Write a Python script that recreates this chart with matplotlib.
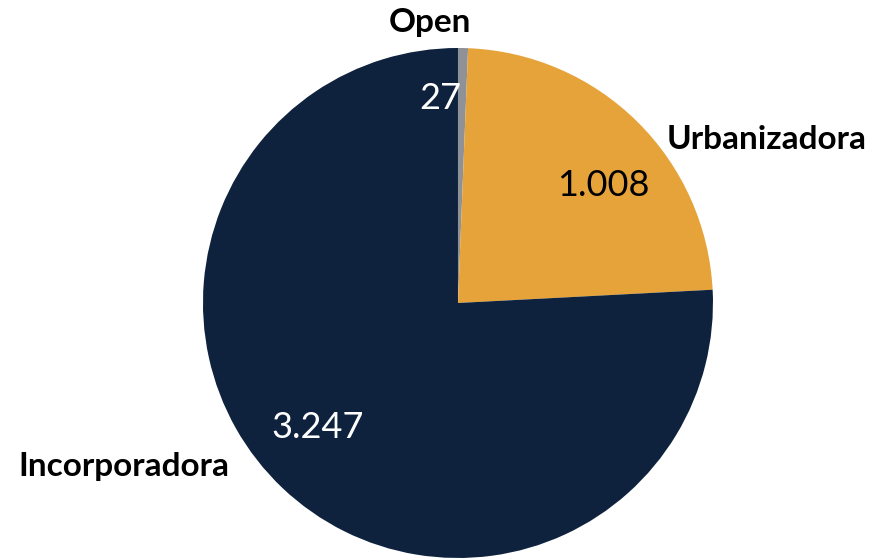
import matplotlib.pyplot as plt

### Data
categories = ['Open', 'Urbanizadora', 'Incorporadora']
values = [27, 1008, 3247]
value_labels = ['27', '1.008', '3.247']
colors = ['#8E9196', '#E5A339', '#0E223D']
number_colors = ['white', 'black', 'white']

# label positions (pie units, centre = 0,0, radius = 1)
name_pos = [(-0.11, 1.10), (1.21, 0.64), (-1.31, -0.64)]
number_pos = [(-0.07, 0.80), (0.57, 0.46), (-0.55, -0.49)]

### Plot
fig = plt.figure(figsize=(8.76, 5.58), dpi=100)
ax = fig.add_axes([0.2317, 0.0, 0.5822, 0.914])

wedges, _ = ax.pie(values, colors=colors, startangle=90, counterclock=False,
                   radius=1, wedgeprops=dict(linewidth=0))
ax.set_xlim(-1, 1)
ax.set_ylim(-1, 1)
ax.set_aspect('equal')
ax.axis('off')

for name, pos in zip(categories, name_pos):
    ax.text(pos[0], pos[1], name, ha='center', va='center', fontsize=24,
            fontweight='bold', family='Lato', color='black', clip_on=False)

for lab, pos, c in zip(value_labels, number_pos, number_colors):
    ax.text(pos[0], pos[1], lab, ha='center', va='center', fontsize=26,
            family='Lato', color=c, clip_on=False)

fig.savefig('out.png', dpi=100)
